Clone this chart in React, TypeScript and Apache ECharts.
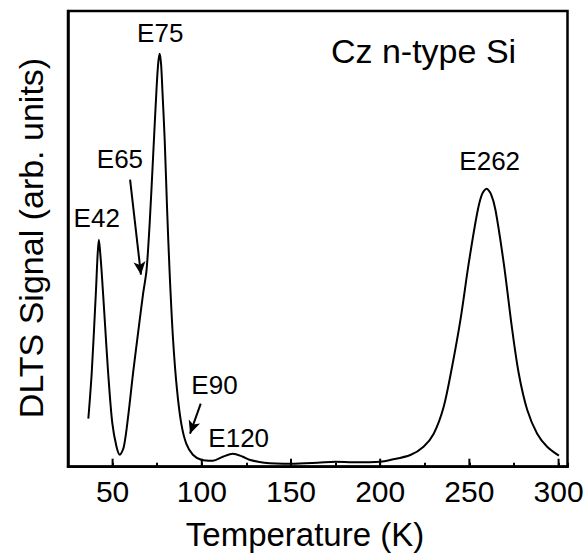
import React, { useEffect, useRef } from "react";
import * as echarts from "echarts";

// Temperature (K) and DLTS signal (arb. units)
const temps = [36.4, 38.3, 40.7, 41.6, 42.3, 43.0, 43.9, 45.7, 47.5, 49.8, 52.2, 54.1, 56.3, 58.7, 61.5, 64.3, 67.1, 69.0, 70.8, 72.7, 74.6, 75.6, 76.4, 77.2, 77.9, 79.2, 80.5, 82.0, 83.9, 86.1, 88.5, 91.3, 95.0, 99.7, 106.2, 111.8, 117.4, 123.0, 126.7, 135, 150, 165, 175, 185, 200, 205.6, 216.9, 224.3, 230, 235.6, 240.3, 245, 249.6, 254.3, 257, 259.6, 262, 264.6, 269.3, 274, 277.7, 282.4, 288, 293.6, 300.2];
const signal = [48, 94, 177, 212, 227, 215, 194, 144, 94, 44, 20, 12, 20, 50, 94, 134, 173, 196, 244, 310, 377, 404, 413, 402, 377, 327, 260, 193, 127, 77, 43, 23, 12, 7, 6, 10, 13, 10, 7, 4, 3, 4, 5, 4.5, 5, 6.7, 11.7, 20, 33, 60, 100, 147, 203, 253, 272, 278, 273, 257, 203, 137, 93, 57, 33, 20, 11];

const xTickLabels = [50, 100, 150, 200, 250, 300];

const peakNames = ["E42", "E65", "E75", "E90", "E120", "E262"];
const peakNameT = [41.1, 54.1, 76.7, 107.1, 120.7, 261.4];
const peakNameV = [249, 308, 434, 82, 29, 306];

const sampleName = "Cz n-type Si";
const sampleT = 224.3;
const sampleV = 416;

const arrowFromT = [59.8, 99.4];
const arrowFromV = [287, 63];
const arrowToT = [65.9, 93.4];
const arrowToV = [192, 33];

const FONT = "'Liberation Sans', Arial, Helvetica, sans-serif";

export default function App() {
  const ref = useRef<HTMLDivElement>(null);
  useEffect(() => {
    if (!ref.current) return;
    document.body.style.margin = "0";
    const chart = echarts.init(ref.current, null, { renderer: "svg" });
    const lineData = temps.map((t, i) => [t, signal[i]]);
    const labelPoints: any[] = peakNames.map((n, i) => ({
      name: n,
      coord: [peakNameT[i], peakNameV[i]],
      label: { fontSize: 26 },
    }));
    labelPoints.push({ name: sampleName, coord: [sampleT, sampleV], label: { fontSize: 34 } });
    const arrows = arrowFromT.map((_, i) => [
      { coord: [arrowFromT[i], arrowFromV[i]], symbol: "none" },
      { coord: [arrowToT[i], arrowToV[i]], symbol: "arrow" },
    ]);
    chart.setOption({
      animation: false,
      backgroundColor: "#fff",
      textStyle: { fontFamily: FONT },
      grid: {
        left: 68,
        top: 11,
        right: 19.5,
        bottom: 86.3,
        show: true,
        borderColor: "#000",
        borderWidth: 2.5,
        backgroundColor: "transparent",
      },
      xAxis: {
        type: "value",
        min: 25,
        max: 305,
        interval: 25,
        axisLine: { show: true, lineStyle: { color: "#000", width: 2.5 } },
        axisTick: { show: true, inside: true, length: 4, lineStyle: { color: "#000", width: 2 } },
        axisLabel: {
          show: true,
          fontSize: 30,
          color: "#000",
          fontFamily: FONT,
          margin: 10,
          formatter: (v: number) => (xTickLabels.indexOf(v) >= 0 ? String(v) : ""),
        },
        splitLine: { show: false },
      },
      yAxis: {
        type: "value",
        min: 0,
        max: 455.7,
        axisLine: { show: true, lineStyle: { color: "#000", width: 2.5 } },
        axisTick: { show: false },
        axisLabel: { show: false },
        splitLine: { show: false },
      },
      graphic: [
        {
          type: "text",
          x: 305,
          y: 534,
          style: {
            text: "Temperature (K)",
            fontSize: 33,
            fontFamily: FONT,
            fill: "#000",
            align: "center",
            verticalAlign: "middle",
          },
        },
        {
          type: "text",
          x: 30.5,
          y: 238,
          rotation: Math.PI / 2,
          style: {
            text: "DLTS Signal (arb. units)",
            fontSize: 34,
            fontFamily: FONT,
            fill: "#000",
            align: "center",
            verticalAlign: "middle",
          },
        },
      ],
      series: [
        {
          type: "line",
          data: lineData,
          smooth: 0.3,
          showSymbol: false,
          symbol: "none",
          lineStyle: { color: "#000", width: 2 },
          silent: true,
          markPoint: {
            silent: true,
            symbol: "circle",
            symbolSize: 0,
            label: {
              show: true,
              position: "inside",
              formatter: (p: any) => p.name,
              color: "#000",
              fontFamily: FONT,
              fontSize: 26,
            },
            data: labelPoints,
          },
          markLine: {
            silent: true,
            symbolSize: [9, 13],
            label: { show: false },
            lineStyle: { color: "#000", width: 2, type: "solid" },
            data: arrows,
          },
        },
        {
          type: "custom",
          silent: true,
          data: xTickLabels.map((t) => [t, 0]),
          renderItem: (params: any, api: any) => {
            const p = api.coord([api.value(0), 0]);
            return {
              type: "line",
              shape: { x1: p[0], y1: p[1], x2: p[0], y2: p[1] - 8 },
              style: { stroke: "#000", lineWidth: 2 },
            };
          },
        },
      ],
    });
    return () => chart.dispose();
  }, []);
  return <div ref={ref} style={{ width: 587, height: 553, position: "absolute", left: 0, top: 0 }} />;
}
